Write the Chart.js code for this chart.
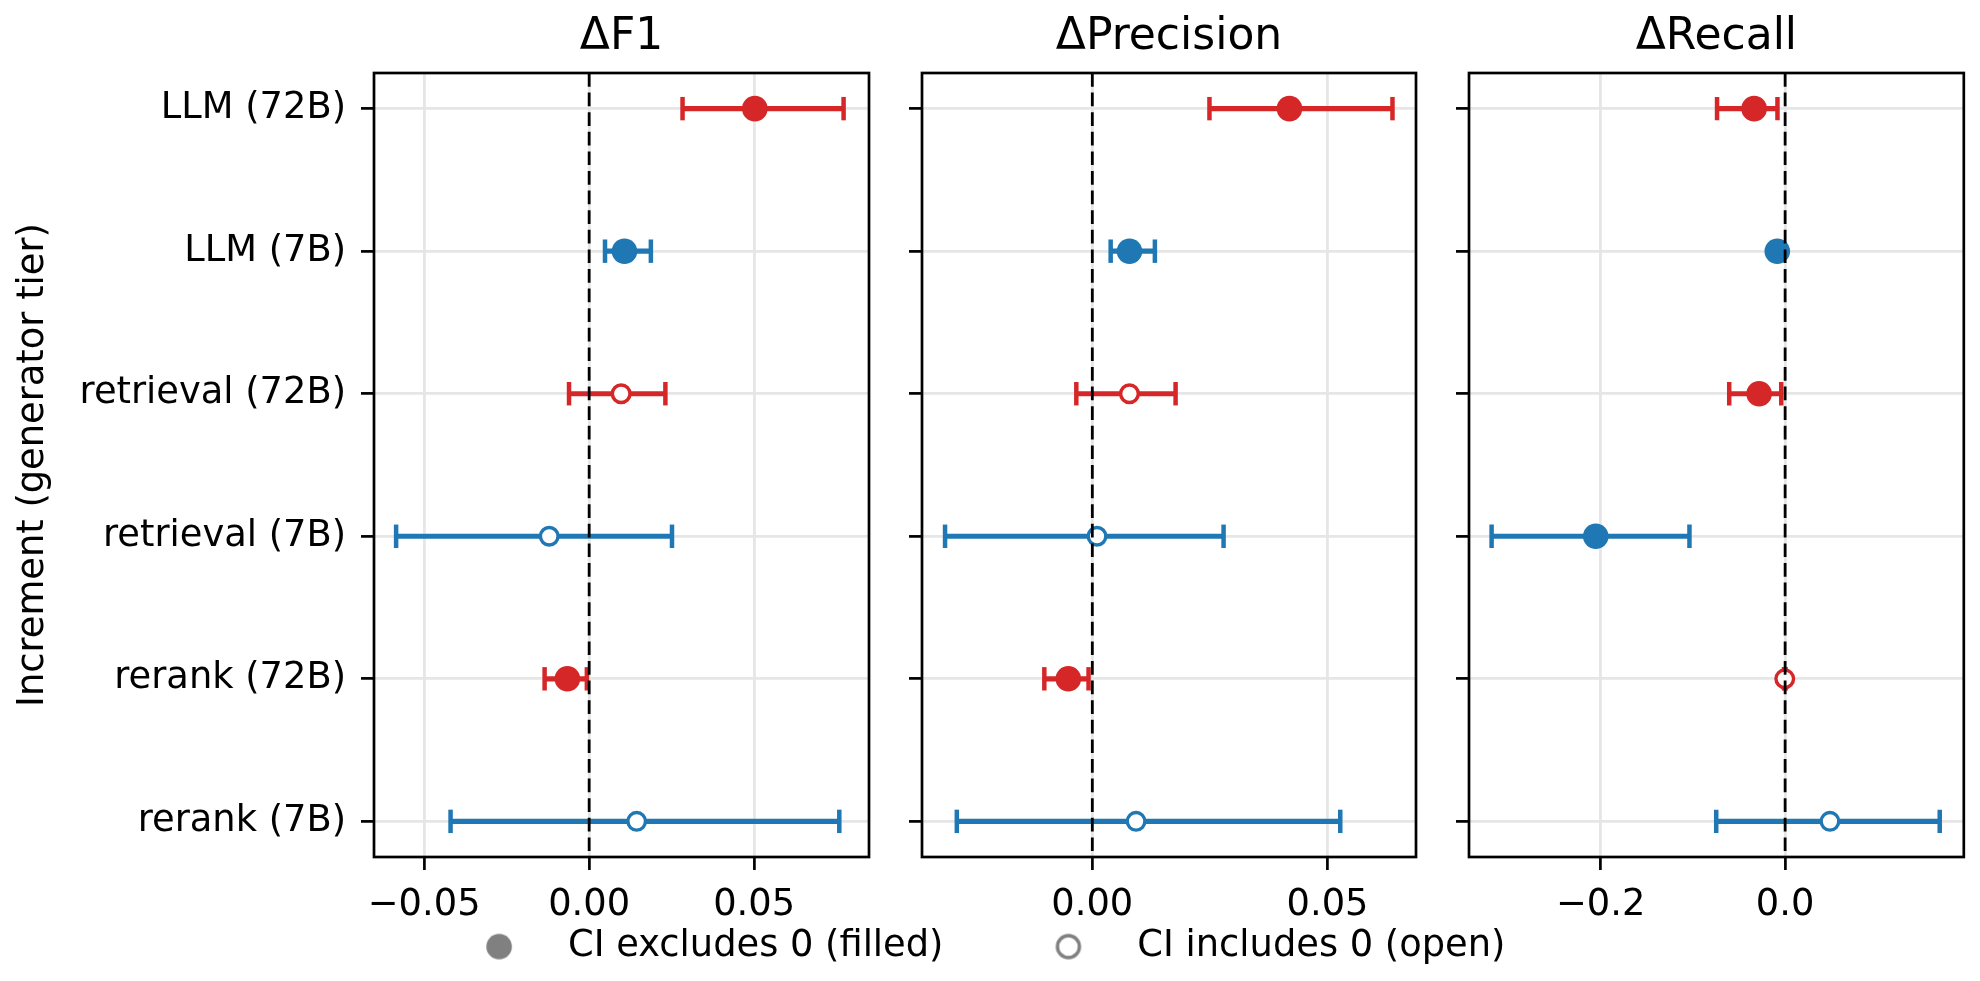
<!DOCTYPE html>
<html>
<head>
<meta charset="utf-8">
<script src="https://cdn.jsdelivr.net/npm/chart.js@4.4.0/dist/chart.umd.min.js"></script>
<style>
html,body{margin:0;padding:0;background:#ffffff;}
#wrap{position:relative;width:1980px;height:981px;overflow:hidden;background:#ffffff;}
.layer{position:absolute;left:0;top:0;width:1980px;height:981px;}
</style>
</head>
<body>
<div id="wrap">
  <div class="layer"><canvas id="c0"></canvas></div>
  <div class="layer"><canvas id="c1"></canvas></div>
  <div class="layer"><canvas id="c2"></canvas></div>
  <div class="layer"><canvas id="cLeg"></canvas></div>
</div>
<script>
// ---------------- data ----------------
const categories = ['LLM (72B)', 'LLM (7B)', 'retrieval (72B)', 'retrieval (7B)', 'rerank (72B)', 'rerank (7B)'];
const tiers = ['72B', '7B', '72B', '7B', '72B', '7B'];

const f1Est = [0.0502, 0.0107, 0.0097, -0.0121, -0.0066, 0.0144];
const f1Lo  = [0.0283, 0.0048, -0.0061, -0.0585, -0.0135, -0.0420];
const f1Hi  = [0.0771, 0.0187, 0.0231, 0.0251, -0.0007, 0.0758];

const precEst = [0.0419, 0.0079, 0.0079, 0.0010, -0.0051, 0.0093];
const precLo  = [0.0249, 0.0039, -0.0034, -0.0313, -0.0102, -0.0288];
const precHi  = [0.0638, 0.0133, 0.0177, 0.0279, -0.0008, 0.0527];

const recEst = [-0.0336, -0.0085, -0.0282, -0.2053, -0.0004, 0.0486];
const recLo  = [-0.0738, -0.0097, -0.0606, -0.3182, -0.0012, -0.0747];
const recHi  = [-0.0083, -0.0073, -0.0042, -0.1037, 0.0005, 0.1676];

const panelTitles = ['\u0394F1', '\u0394Precision', '\u0394Recall'];
const f1Ticks = [-0.05, 0, 0.05];
const f1TickLabels = ['\u22120.05', '0.00', '0.05'];
const precTicks = [0, 0.05];
const precTickLabels = ['0.00', '0.05'];
const recTicks = [-0.2, 0];
const recTickLabels = ['\u22120.2', '0.0'];
const f1Range = [-0.0652, 0.0848];
const precRange = [-0.0362, 0.0688];
const recRange = [-0.3427, 0.1937];
const referenceValue = 0;
const yAxisTitle = 'Increment (generator tier)';
const legendLabels = ['CI excludes 0 (filled)', 'CI includes 0 (open)'];

// ---------------- styles ----------------
const tierColors = { '72B': '#d62728', '7B': '#1f77b4' };
const FONT = "'DejaVu Sans', sans-serif";
const TICK_SIZE = 36.8;
const Y_MIN = -0.25, Y_MAX = 5.25;
Chart.defaults.font.family = FONT;
Chart.defaults.color = '#000';

const panels = [
  { id: 'c0', title: panelTitles[0], est: f1Est, lo: f1Lo, hi: f1Hi, ticks: f1Ticks, tickLabels: f1TickLabels, range: f1Range, left: 374, right: 869, showY: true },
  { id: 'c1', title: panelTitles[1], est: precEst, lo: precLo, hi: precHi, ticks: precTicks, tickLabels: precTickLabels, range: precRange, left: 922, right: 1416, showY: false },
  { id: 'c2', title: panelTitles[2], est: recEst, lo: recLo, hi: recHi, ticks: recTicks, tickLabels: recTickLabels, range: recRange, left: 1469, right: 1964, showY: false }
];

const framePlugin = {
  id: 'frame',
  afterDatasetsDraw(chart) {
    const a = chart.chartArea; const ctx = chart.ctx;
    ctx.save();
    ctx.strokeStyle = '#000'; ctx.lineWidth = 2.7;
    ctx.strokeRect(a.left, a.top, a.right - a.left, a.bottom - a.top);
    ctx.restore();
  }
};

function makePanel(p) {
  const colors = tiers.map(t => tierColors[t]);
  const filled = p.est.map((v, i) => p.lo[i] > referenceValue || p.hi[i] < referenceValue);
  const datasets = [];
  // reference line (on top)
  datasets.push({
    type: 'line',
    data: [{ x: referenceValue, y: Y_MIN }, { x: referenceValue, y: Y_MAX }],
    borderColor: '#000', borderWidth: 2.8, borderDash: [13.7, 5.9],
    pointRadius: 0, fill: false
  });
  // point estimates
  datasets.push({
    type: 'scatter',
    data: p.est.map((v, i) => ({ x: v, y: i })),
    pointStyle: 'circle',
    pointRadius: filled.map(f => f ? 12.8 : 8.8),
    pointBackgroundColor: filled.map((f, i) => f ? colors[i] : '#ffffff'),
    pointBorderColor: colors,
    pointBorderWidth: filled.map(f => f ? 0 : 3.4)
  });
  // CI error bars
  p.est.forEach((v, i) => {
    datasets.push({
      type: 'line',
      data: [{ x: p.lo[i], y: i }, { x: p.hi[i], y: i }],
      borderColor: colors[i], borderWidth: 5.2, fill: false,
      pointStyle: 'line', pointRotation: 90, pointRadius: 11.7,
      pointBorderColor: colors[i], pointBackgroundColor: colors[i], pointBorderWidth: 4.5
    });
  });

  const gridCommon = { color: '#e6e6e6', lineWidth: 2.8, tickColor: '#000', tickWidth: 2.7, tickLength: 13, drawTicks: true };

  return new Chart(document.getElementById(p.id), {
    type: 'scatter',
    data: { datasets },
    plugins: [framePlugin],
    options: {
      responsive: true, maintainAspectRatio: false, animation: false, events: [],
      layout: { padding: { left: 0, right: 1980 - p.right, top: 0, bottom: 0 } },
      plugins: {
        legend: { display: false },
        tooltip: { enabled: false },
        title: {
          display: true, text: p.title, fullSize: false, position: 'top', color: '#000',
          font: { family: FONT, size: 44, weight: 'normal' },
          padding: { top: 11.1, bottom: 9.1 }
        }
      },
      scales: {
        x: {
          type: 'linear', min: p.range[0], max: p.range[1],
          afterBuildTicks: s => { s.ticks = p.ticks.map(v => ({ value: v })); },
          afterFit: s => { s.height = 124; },
          ticks: {
            autoSkip: false, maxRotation: 0, minRotation: 0, padding: 13, color: '#000',
            font: { family: FONT, size: TICK_SIZE },
            callback: (v, i) => p.tickLabels[i]
          },
          grid: gridCommon,
          border: { display: false }
        },
        y: {
          type: 'linear', reverse: true, min: Y_MIN, max: Y_MAX,
          afterBuildTicks: s => { s.ticks = categories.map((c, i) => ({ value: i })); },
          afterFit: s => { s.width = p.left; },
          ticks: {
            display: p.showY, autoSkip: false, padding: 15, color: '#000',
            font: { family: FONT, size: TICK_SIZE },
            callback: (v, i) => categories[i]
          },
          grid: gridCommon,
          border: { display: false },
          title: {
            display: p.showY, text: yAxisTitle, color: '#000',
            font: { family: FONT, size: TICK_SIZE },
            padding: { top: 11, bottom: 0 }
          }
        }
      }
    }
  });
}

panels.forEach(makePanel);

// ---------------- legend ----------------
function makeIcon(isFilled) {
  const c = document.createElement('canvas');
  c.width = 30; c.height = 30;
  const g = c.getContext('2d');
  g.beginPath();
  if (isFilled) {
    g.arc(15, 15, 12.8, 0, Math.PI * 2);
    g.fillStyle = '#808080'; g.fill();
  } else {
    g.arc(15, 15, 11, 0, Math.PI * 2);
    g.fillStyle = '#ffffff'; g.fill();
    g.lineWidth = 3.4; g.strokeStyle = '#808080'; g.stroke();
  }
  return c;
}
const legendIcons = [makeIcon(true), makeIcon(false)];

new Chart(document.getElementById('cLeg'), {
  type: 'scatter',
  data: { datasets: [] },
  options: {
    responsive: true, maintainAspectRatio: false, animation: false, events: [],
    layout: { padding: { left: 0, right: 26, top: 0, bottom: 6 } },
    scales: { x: { display: false }, y: { display: false } },
    plugins: {
      tooltip: { enabled: false },
      title: { display: false },
      legend: {
        display: true, position: 'bottom', align: 'center',
        labels: {
          usePointStyle: true, pointStyleWidth: 101, boxHeight: TICK_SIZE,
          padding: 74.5, color: '#000',
          font: { family: FONT, size: TICK_SIZE },
          generateLabels: () => legendLabels.map((t, i) => ({
            text: t, pointStyle: legendIcons[i], fillStyle: '#808080', strokeStyle: '#808080',
            lineWidth: 0, hidden: false, datasetIndex: i, fontColor: '#000'
          }))
        }
      }
    }
  }
});
</script>
</body>
</html>
